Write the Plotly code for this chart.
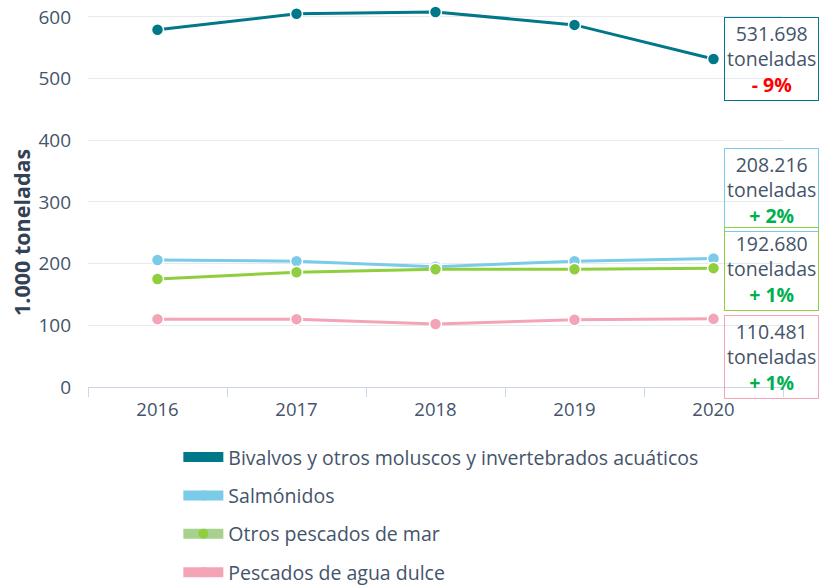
import plotly.graph_objects as go

years = ["2016", "2017", "2018", "2019", "2020"]

bivalvos = [579, 605, 608, 587, 531.698]
salmonidos = [206, 204, 195, 204, 208.216]
otros_mar = [175, 186, 191, 191, 192.680]
agua_dulce = [110, 110, 102, 109, 110.481]

y_ticks = [0, 100, 200, 300, 400, 500, 600]

series_names = [
    "Bivalvos y otros moluscos y invertebrados acuáticos",
    "Salmónidos",
    "Otros pescados de mar",
    "Pescados de agua dulce",
]
series_values = [bivalvos, salmonidos, otros_mar, agua_dulce]
line_colors = ["#00788a", "#7acbe8", "#8fcf3e", "#f3a5b7"]
legend_colors = ["#00788a", "#7acbe8", "#a8d18d", "#f3a5b7"]

change_labels = ["- 9%", "+ 2%", "+ 1%", "+ 1%"]
change_colors = ["#ff0000", "#00b050", "#00b050", "#00b050"]

text_color = "#44546a"
font_family = "Open Sans, Noto Sans, sans-serif"


def es_number(v):
    # 531.698 -> "531.698" (thousands grouped with a dot, no decimals)
    return f"{round(v * 1000):,}".replace(",", ".")


fig = go.Figure()

for name, vals, col, lcol in zip(series_names, series_values, line_colors, legend_colors):
    fig.add_trace(go.Scatter(
        x=years, y=vals, mode="lines+markers", name=name,
        line=dict(color=col, width=3),
        marker=dict(size=12, color=col, line=dict(color="white", width=1.5)),
        showlegend=False, cliponaxis=False, hoverinfo="x+y",
    ))
    # legend entry: thick swatch with the series marker
    fig.add_trace(go.Scatter(
        x=[None], y=[None], mode="lines+markers", name=name,
        line=dict(color=lcol, width=10),
        marker=dict(size=10, color=col),
        legendgroup=name, showlegend=True,
    ))

# value boxes next to the last point (vertical centres in axis units)
box_centres = [531.698, 319, 191.5, 48.5]
last_idx = len(years) - 1
for vals, col, lab, lab_col, yc in zip(series_values, line_colors, change_labels, change_colors, box_centres):
    txt = (es_number(vals[-1]) + "<br>toneladas<br>"
           + f"<span style='color:{lab_col}'><b>{lab}</b></span>")
    fig.add_annotation(
        x=last_idx, y=yc, xref="x", yref="y", text=txt, showarrow=False,
        xanchor="left", yanchor="middle", xshift=10,
        font=dict(size=19.5, color=text_color, family=font_family),
        bordercolor=col, borderwidth=1, borderpad=2, bgcolor="rgba(255,255,255,0)",
        align="center",
    )

# rotated axis title
fig.add_annotation(
    text="<b>1.000 toneladas</b>", xref="paper", yref="paper",
    x=-0.095, y=0.408, xanchor="center", yanchor="middle", textangle=-90,
    showarrow=False, font=dict(size=21.5, color="#334155", family=font_family),
)

fig.update_layout(
    width=822, height=588,
    margin=dict(l=88, r=39, t=7, b=201, autoexpand=False),
    paper_bgcolor="white", plot_bgcolor="white",
    font=dict(family=font_family, color=text_color, size=18),
    legend=dict(
        orientation="v", x=0.13, xanchor="left", y=-0.134, yanchor="top",
        font=dict(size=19.5, color=text_color, family=font_family),
        tracegroupgap=10, itemwidth=40,
    ),
    xaxis=dict(
        type="category", tickson="boundaries", ticks="outside", ticklen=9,
        tickcolor="#ccd6eb", showgrid=False, showline=True, linecolor="#ccd6eb",
        tickfont=dict(size=18.5, color=text_color), range=[-0.5, 4.5],
        ticklabelstandoff=6,
    ),
    yaxis=dict(
        range=[0, 616], tickvals=y_ticks, showgrid=True, gridcolor="#e6e9ee", gridwidth=1,
        zeroline=False, tickfont=dict(size=19, color=text_color),
        ticklabelstandoff=16,
    ),
)

fig.write_html("out.html")
